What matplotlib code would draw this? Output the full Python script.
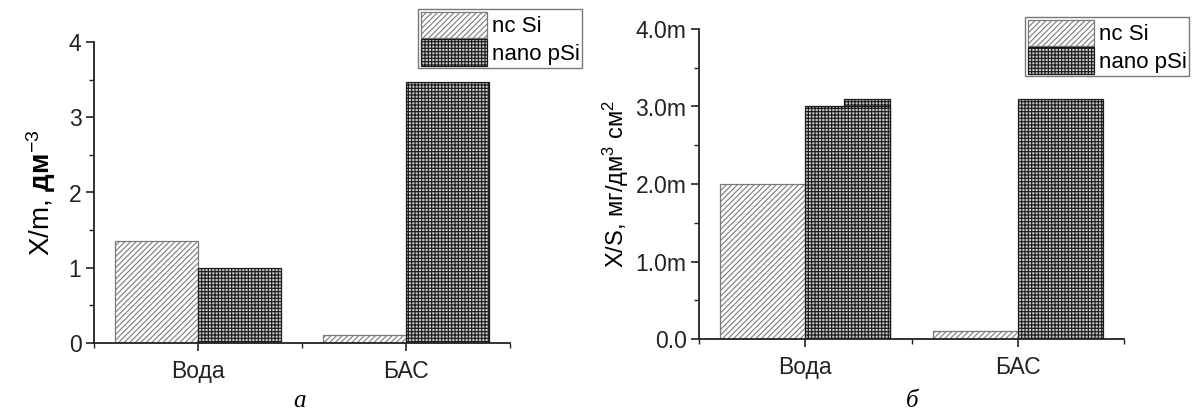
import matplotlib
matplotlib.use("Agg")
import matplotlib.pyplot as plt
import numpy as np
from matplotlib.ticker import MultipleLocator, FuncFormatter
from matplotlib.patches import Patch

plt.rcParams['font.family'] = ['Liberation Sans', 'DejaVu Sans']
plt.rcParams['mathtext.fontset'] = 'custom'
plt.rcParams['mathtext.rm'] = 'Liberation Sans'
plt.rcParams['mathtext.it'] = 'Liberation Sans:italic'
plt.rcParams['mathtext.bf'] = 'Liberation Sans:bold'
plt.rcParams['hatch.linewidth'] = 0.8

# ---- data ----
categories = ['Вода', 'БАС']
series_names = ['nc Si', 'nano pSi']
# panel a: X/m, дм^-3
a_nc_si = [1.36, 0.10]
a_nano_psi = [1.00, 3.47]
# panel б: X/S, мг/дм^3 см^2
b_nc_si = [2.0e-3, 0.1e-3]
b_nano_psi = [3.0e-3, 3.1e-3]
b_nano_psi_step = [3.1e-3, np.nan]   # overlapping step on the Вода bar

a_yticks = [0, 1, 2, 3, 4]
b_yticks = [0, 1e-3, 2e-3, 3e-3, 4e-3]

NC_STYLE = dict(facecolor='white', edgecolor='#7a7a7a', hatch='//////', linewidth=0.9)
NANO_STYLE = dict(facecolor='#c4c4c4', edgecolor='#1a1a1a', hatch='+++++', linewidth=0.9)

fig = plt.figure(figsize=(11.96, 4.19), dpi=100)
axa = fig.add_axes([94/1196, 1-343/419, 416/1196, 301/419])
axb = fig.add_axes([699/1196, 1-339/419, 425/1196, 310/419])

x = np.arange(1, len(categories) + 1)
w = 0.4
TICK_FS = 16.5

def style_axes(ax):
    ax.set_xlim(0.5, 2.5)
    for s in ['top', 'right']:
        ax.spines[s].set_visible(False)
    for s in ['left', 'bottom']:
        ax.spines[s].set_linewidth(1.3)
        ax.spines[s].set_color('#222222')
    ax.set_xticks(x)
    ax.set_xticklabels(categories)
    ax.xaxis.set_minor_locator(MultipleLocator(0.5))
    ax.tick_params(axis='both', which='major', direction='out', length=6, width=1.2,
                   labelsize=TICK_FS, colors='#222222', pad=3)
    ax.tick_params(axis='both', which='minor', direction='out', length=3.5, width=1.0,
                   colors='#222222')
    ax.tick_params(axis='x', which='major', pad=6)

# panel a
axa.bar(x - w/2, a_nc_si, width=w, **NC_STYLE)
axa.bar(x + w/2, a_nano_psi, width=w, **NANO_STYLE)
style_axes(axa)
axa.set_ylim(0, 4)
axa.set_yticks(a_yticks)
axa.yaxis.set_minor_locator(MultipleLocator(0.5))
axa.set_ylabel(r'X/m, $\mathbf{дм}^{-3}$', fontsize=20, labelpad=8)

# panel b
axb.bar(x - w/2, b_nc_si, width=w, **NC_STYLE)
axb.bar(x + 0.18, b_nano_psi_step, width=w - 0.18, align='edge', zorder=1.9, **NANO_STYLE)
axb.bar(x + w/2, b_nano_psi, width=w, zorder=2, **NANO_STYLE)
style_axes(axb)
axb.set_ylim(0, 4e-3)
axb.set_yticks(b_yticks)
axb.yaxis.set_minor_locator(MultipleLocator(0.5e-3))
axb.yaxis.set_major_formatter(FuncFormatter(lambda v, p: '0.0' if abs(v) < 1e-12 else f'{v*1000:.1f}m'))
axb.set_ylabel('X/S, мг/дм$^3$ см$^2$', fontsize=17, labelpad=3)

# legends
handles = [Patch(**NC_STYLE, label=series_names[0]), Patch(**NANO_STYLE, label=series_names[1])]
leg_kw = dict(fontsize=16, handlelength=3.0, handleheight=1.45, handletextpad=0.2,
              labelspacing=0.05, borderpad=0.12, borderaxespad=0.0, fancybox=False,
              framealpha=1, edgecolor='#777777')
la = fig.legend(handles=handles, loc='upper left', bbox_to_anchor=(418/1196, 1-9/419), **leg_kw)
la.get_frame().set_linewidth(1.0)
lb = fig.legend(handles=handles, loc='upper left', bbox_to_anchor=(1025/1196, 1-17/419), **leg_kw)
lb.get_frame().set_linewidth(1.0)

# panel captions
fig.text(300/1196, 1-401/419, 'а', fontsize=18, family='Liberation Serif', style='italic',
         ha='center', va='center')
fig.text(912/1196, 1-401/419, 'б', fontsize=18, family='Liberation Serif', style='italic',
         ha='center', va='center')

fig.savefig('out.png', dpi=100)
